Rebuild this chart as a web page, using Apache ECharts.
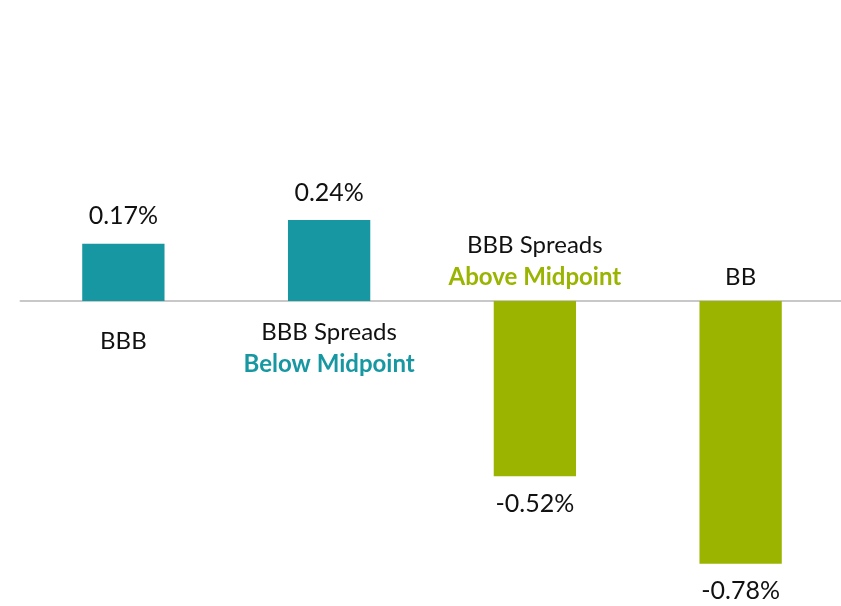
<!DOCTYPE html>
<html>
<head>
<meta charset="utf-8">
<script src="https://cdn.jsdelivr.net/npm/echarts@6/dist/echarts.min.js"></script>
<style>html,body{margin:0;padding:0;background:#fff}#c{width:841px;height:606px}</style>
</head>
<body>
<div id="c"></div>
<script>
const categories = ['BBB', 'BBB Spreads', 'BBB Spreads', 'BB'];
const subtitles = ['', 'Below Midpoint', 'Above Midpoint', ''];
const values = [0.17, 0.24, -0.52, -0.78];

const TEAL = '#1697a2';
const GREEN = '#9ab400';
const FONT = 'Lato';

const axisData = categories.map((c, i) => c + (subtitles[i] ? ' ' + subtitles[i] : '') + '#' + i);

function buildLabel(i) {
  const sub = subtitles[i];
  const below = values[i] >= 0;
  if (sub) {
    return '{n|' + categories[i] + '}\n{' + (below ? 't' : 'g') + '|' + sub + '}';
  }
  return below ? '{s|' + categories[i] + '}' : '{n|' + categories[i] + '}';
}

const rich = {
  n: { fontSize: 24, color: '#111', lineHeight: 32, fontFamily: FONT },
  s: { fontSize: 24, color: '#111', lineHeight: 50, fontFamily: FONT },
  t: { fontSize: 24, color: TEAL, fontWeight: 'bold', lineHeight: 32, fontFamily: FONT },
  g: { fontSize: 24, color: GREEN, fontWeight: 'bold', lineHeight: 32, fontFamily: FONT }
};

const chart = echarts.init(document.getElementById('c'), null, { renderer: 'canvas' });
chart.setOption({
  backgroundColor: '#fff',
  animation: false,
  grid: { left: 20.5, width: 823, top: 31.4, height: 539.2, containLabel: false, outerBoundsMode: 'none' },
  xAxis: {
    type: 'category',
    data: axisData,
    axisLine: { onZero: true, lineStyle: { color: '#c8c8c8', width: 2 } },
    axisTick: { show: false },
    axisLabel: { show: false },
    splitLine: { show: false }
  },
  yAxis: {
    type: 'value', min: -0.8, max: 0.8, show: false,
    splitLine: { show: false }
  },
  series: [{
    type: 'bar',
    barWidth: '40%',
    data: values.map(v => ({
      value: v,
      itemStyle: { color: v >= 0 ? TEAL : GREEN },
      label: { position: v >= 0 ? 'top' : 'bottom', distance: v >= 0 ? 15 : 15 }
    })),
    label: {
      show: true,
      fontSize: 25,
      color: '#111',
      fontFamily: FONT,
      formatter: p => p.value.toFixed(2) + '%'
    }
  }, {
    type: 'scatter',
    symbolSize: 0,
    silent: true,
    itemStyle: { opacity: 1, color: 'rgba(0,0,0,0)' },
    data: values.map((v, i) => ({
      value: [i, 0],
      label: { position: v >= 0 ? 'bottom' : 'top', distance: v >= 0 ? 15 : 8 }
    })),
    label: {
      show: true,
      opacity: 1,
      formatter: p => buildLabel(p.dataIndex),
      rich: rich
    }
  }]
});
</script>
</body>
</html>
